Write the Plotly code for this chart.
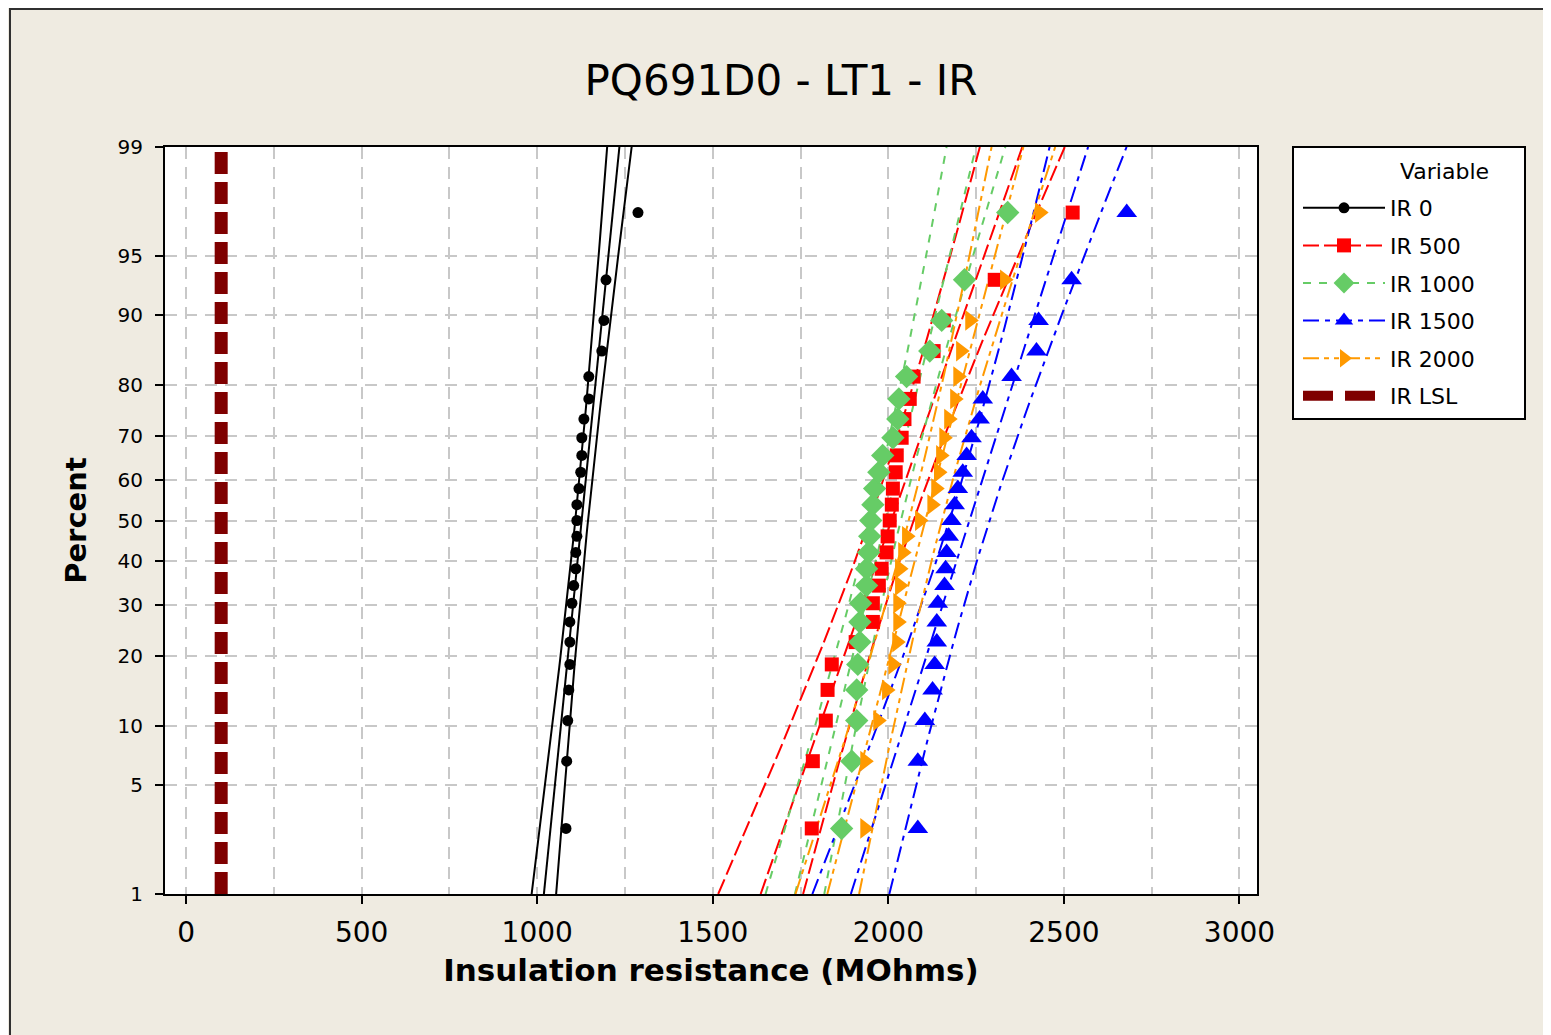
import numpy as np
import plotly.graph_objects as go
from statistics import NormalDist

# ---------------- data ----------------
TITLE = "PQ691D0 - LT1 - IR"
X_TITLE = "Insulation resistance (MOhms)"
Y_TITLE = "Percent"
LEGEND_TITLE = "Variable"
PCT_TICKS = [1, 5, 10, 20, 30, 40, 50, 60, 70, 80, 90, 95, 99]
X_TICKS = [0, 500, 1000, 1500, 2000, 2500, 3000]

SERIES_NAMES = ["IR 0", "IR 500", "IR 1000", "IR 1500", "IR 2000"]
IR_0 = [1082, 1084, 1087, 1090, 1093, 1093, 1093, 1099, 1104, 1110, 1110, 1113, 1113,
        1113, 1119, 1124, 1127, 1127, 1133, 1147, 1147, 1184, 1190, 1196, 1287]
IR_500 = [1782, 1785, 1822, 1827, 1839, 1907, 1956, 1956, 1973, 1981, 1995, 1998, 2004,
          2010, 2013, 2021, 2024, 2038, 2046, 2061, 2072, 2129, 2158, 2303, 2525]
IR_1000 = [1867, 1896, 1910, 1910, 1913, 1919, 1919, 1921, 1938, 1938, 1944, 1947, 1950,
           1956, 1961, 1973, 1984, 2013, 2027, 2030, 2052, 2118, 2152, 2217, 2340]
IR_1500 = [2084, 2084, 2104, 2126, 2132, 2138, 2138, 2141, 2160, 2163, 2166, 2172, 2180,
           2189, 2198, 2212, 2223, 2237, 2260, 2269, 2351, 2422, 2428, 2522, 2679]
IR_2000 = [1933, 1933, 1970, 1995, 2013, 2024, 2027, 2027, 2032, 2032, 2041, 2052, 2089,
           2124, 2135, 2143, 2149, 2158, 2172, 2189, 2198, 2206, 2232, 2331, 2431]
LSL_NAME = "IR LSL"
LSL_VALUE = 100

# ---------------- styles ----------------
STYLES = {
    "IR 0": dict(color="#000000", symbol="circle", size=11, dash="solid"),
    "IR 500": dict(color="#FF0000", symbol="square", size=14, dash="16px,5px"),
    "IR 1000": dict(color="#66CC66", symbol="diamond", size=18, dash="8px,8px"),
    "IR 1500": dict(color="#0000FF", symbol="triangle-up", size=18, dash="16px,6px,5px,6px"),
    "IR 2000": dict(color="#FF9900", symbol="triangle-right", size=18, dash="16px,5px,5px,5px,5px,5px"),
}
LSL_COLOR = "#7F0000"
FONT = "DejaVu Sans"

nd = NormalDist()
zmin = nd.inv_cdf(PCT_TICKS[0] / 100)
zmax = nd.inv_cdf(PCT_TICKS[-1] / 100)
zgrid = np.linspace(zmin, zmax, 80)

fig = go.Figure()
series_data = [IR_0, IR_500, IR_1000, IR_1500, IR_2000]

# fitted lines + confidence bands
for name, vals in zip(SERIES_NAMES, series_data):
    st = STYLES[name]
    v = np.sort(np.array(vals, dtype=float))
    n = len(v)
    mu = v.mean()
    sd = v.std(ddof=1)
    fit = mu + sd * zgrid
    half = 1.96 * sd * np.sqrt(1.0 / n + zgrid ** 2 / (2.0 * n))
    for xs in (fit - half, fit, fit + half):
        fig.add_trace(go.Scatter(x=xs, y=zgrid, mode="lines", showlegend=False,
                                 hoverinfo="skip",
                                 line=dict(color=st["color"], width=2, dash=st["dash"])))

# LSL line
fig.add_trace(go.Scatter(x=[LSL_VALUE, LSL_VALUE], y=[zmin, zmax], mode="lines",
                         showlegend=False,
                         line=dict(color=LSL_COLOR, width=13, dash="22px,8px")))

# data points
for name, vals in zip(SERIES_NAMES, series_data):
    st = STYLES[name]
    v = np.sort(np.array(vals, dtype=float))
    n = len(v)
    ranks = np.arange(1, n + 1)
    pos = (ranks - 0.3) / (n + 0.4)
    z = np.array([nd.inv_cdf(p) for p in pos])
    fig.add_trace(go.Scatter(x=v, y=z, mode="markers", showlegend=False, name=name,
                             marker=dict(color=st["color"], symbol=st["symbol"], size=st["size"],
                                         line=dict(width=0))))

# legend proxies
for i, name in enumerate(SERIES_NAMES):
    st = STYLES[name]
    fig.add_trace(go.Scatter(x=[None], y=[None], mode="lines+markers", name=name,
                             legendgroup=f"g{i}",
                             line=dict(color=st["color"], width=2, dash=st["dash"]),
                             marker=dict(color=st["color"], symbol=st["symbol"], size=st["size"])))
fig.add_trace(go.Scatter(x=[None], y=[None], mode="lines", name=LSL_NAME, legendgroup="lsl",
                         line=dict(color=LSL_COLOR, width=10, dash="30px,12px")))

# page has an 8px body margin: figure origin sits at page (8, 8)
W, H = 1543, 1027
L, T, R, B = 157, 139, 294, 141
PW, PH = W - L - R, H - T - B


def px(fx):
    return (fx - L) / PW


def py(fy):
    return (H - B - fy) / PH


grid = dict(gridcolor="#C8C8C8", gridwidth=2, griddash="12px,8px")
fig.update_layout(
    width=W, height=H, autosize=False,
    margin=dict(l=L, r=R, t=T, b=B),
    paper_bgcolor="#EFEBE1", plot_bgcolor="#FFFFFF",
    font=dict(family=FONT, color="#000000"),
    title=dict(text=TITLE, x=773 / W, xanchor="center", y=1 - 72 / H, yanchor="middle",
               font=dict(family=FONT, size=42, color="#000000")),
    xaxis=dict(range=[-60, 3050], tickmode="array", tickvals=X_TICKS,
               ticktext=[str(t) for t in X_TICKS],
               ticks="outside", ticklen=8, tickwidth=2, tickcolor="#000000",
               tickfont=dict(size=28, family=FONT), ticklabelstandoff=4,
               showline=True, linewidth=2, linecolor="#000000", mirror=True,
               zeroline=False, showgrid=True, **grid,
               minor=dict(dtick=250, tick0=0, showgrid=True, ticks="", **grid),
               title=dict(text=f"<b>{X_TITLE}</b>", font=dict(size=31, family=FONT), standoff=12)),
    yaxis=dict(range=[zmin, zmax], tickmode="array",
               tickvals=[nd.inv_cdf(p / 100) for p in PCT_TICKS],
               ticktext=[str(p) for p in PCT_TICKS],
               ticks="outside", ticklen=8, tickwidth=2, tickcolor="#000000",
               tickfont=dict(size=20, family=FONT), ticklabelstandoff=8,
               showline=True, linewidth=2, linecolor="#000000", mirror=True,
               zeroline=False, showgrid=True, **grid,
               title=dict(text=f"<b>{Y_TITLE}</b>", font=dict(size=29, family=FONT), standoff=22)),
    legend=dict(x=px(1290), y=py(179), xanchor="left", yanchor="top",
                bgcolor="rgba(0,0,0,0)", borderwidth=0,
                font=dict(size=22, family=FONT), itemwidth=82, tracegroupgap=6),
    annotations=[
        dict(text=LEGEND_TITLE, xref="paper", yref="paper", x=px(1390), y=py(164),
             xanchor="left", yanchor="middle", showarrow=False,
             font=dict(size=22, family=FONT, color="#000000")),
    ],
    shapes=[
        dict(type="rect", xref="paper", yref="paper",
             x0=-(L - 2) / PW, x1=(W + 50 - L) / PW,
             y0=-(B + 60) / PH, y1=(H - 1 - B) / PH,
             line=dict(color="#303030", width=2), fillcolor="rgba(0,0,0,0)", layer="below"),
        dict(type="rect", xref="paper", yref="paper",
             x0=px(1285), x1=px(1517), y0=py(411), y1=py(139),
             line=dict(color="#000000", width=2), fillcolor="#FFFFFF", layer="below"),
    ],
)

fig.write_html("out.html")
